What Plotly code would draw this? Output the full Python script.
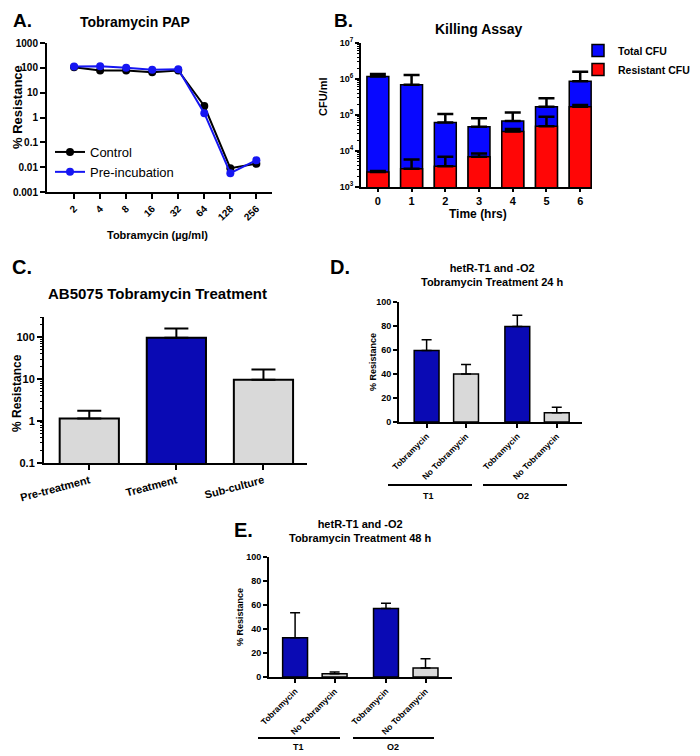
import plotly.graph_objects as go

# === Data ===
# A. Tobramycin PAP
pap_conc = ["2", "4", "8", "16", "32", "64", "128", "256"]
pap_control = [106, 78, 78, 67, 78, 2.9, 0.0091, 0.0137]
pap_preinc = [113, 117, 100, 83, 88, 1.5, 0.0057, 0.019]

# B. Killing assay
kill_time = ["0", "1", "2", "3", "4", "5", "6"]
total_cfu = [1.17e6, 6.9e5, 6.2e4, 4.7e4, 6.8e4, 1.7e5, 8.7e5]
total_err = [2.1e5, 6.1e5, 4.5e4, 3.4e4, 4.9e4, 1.2e5, 7.3e5]
resistant_cfu = [2.6e3, 3.2e3, 3.8e3, 6.9e3, 3.5e4, 4.9e4, 1.7e5]
resistant_err = [0.2e3, 2.6e3, 3.1e3, 1.6e3, 6e3, 4.0e4, 2e4]

# C. AB5075 treatment
treat_groups = ["Pre-treatment", "Treatment", "Sub-culture"]
treat_values = [1.15, 97, 9.7]
treat_err = [0.6, 64, 7.3]

# D / E. hetR-T1 and -O2
het_labels = ["Tobramycin", "No Tobramycin", "Tobramycin", "No Tobramycin"]
het_pos = [0, 1, 2.3, 3.3]
d_values = [59.5, 40, 79.5, 7.8]
d_err = [9, 8, 9.5, 4.5]
e_values = [32.8, 2.8, 57, 7.5]
e_err = [20.8, 1.4, 4.4, 7.8]

OFF = 8  # page body margin: the figure starts 8px in from the window corner
W, H = 700 - 2 * OFF, 756 - OFF
FONT = "Liberation Sans, Arial, sans-serif"
BLUE = "#1616f2"
BAR_BLUE = "#0808ff"
DARK_BLUE = "#0a0ab4"
RED = "#ff0606"
GREY = "#d9d9d9"


# convert window pixel positions to paper fractions
def px(x):
    return (x - OFF) / W


def py(y):
    return 1 - (y - OFF) / H


def bold(size):
    return dict(family=FONT, size=size, color="black", weight="bold")


axis_common = dict(showline=True, linecolor="black", linewidth=2, ticks="outside",
                   tickwidth=1.5, tickcolor="black", showgrid=False, zeroline=False,
                   automargin=False)

fig = go.Figure()

# --- A ---
fig.add_trace(go.Scatter(x=pap_conc, y=pap_control, name="Control", mode="lines+markers",
                         line=dict(color="black", width=2), marker=dict(size=8, color="black"),
                         xaxis="x", yaxis="y", legend="legend"))
fig.add_trace(go.Scatter(x=pap_conc, y=pap_preinc, name="Pre-incubation", mode="lines+markers",
                         line=dict(color=BLUE, width=2), marker=dict(size=8, color=BLUE),
                         xaxis="x", yaxis="y", legend="legend"))

# --- B ---
fig.add_trace(go.Bar(x=kill_time, y=total_cfu, name="Total CFU", width=0.65,
                     marker=dict(color=BAR_BLUE, line=dict(color="black", width=1.5)),
                     error_y=dict(type="data", symmetric=False, array=total_err,
                                  arrayminus=[0] * 7, color="black", thickness=2.5, width=8),
                     xaxis="x2", yaxis="y2", legend="legend2"))
fig.add_trace(go.Bar(x=kill_time, y=resistant_cfu, name="Resistant CFU", width=0.65,
                     marker=dict(color=RED, line=dict(color="black", width=1.5)),
                     error_y=dict(type="data", symmetric=False, array=resistant_err,
                                  arrayminus=[0] * 7, color="black", thickness=2.5, width=8),
                     xaxis="x2", yaxis="y2", legend="legend2"))

# --- C ---
fig.add_trace(go.Bar(x=treat_groups, y=treat_values, width=0.68, showlegend=False,
                     marker=dict(color=[GREY, DARK_BLUE, GREY], line=dict(color="black", width=2)),
                     error_y=dict(type="data", symmetric=False, array=treat_err,
                                  arrayminus=[0] * 3, color="black", thickness=2, width=12),
                     xaxis="x3", yaxis="y3"))

# --- D ---
fig.add_trace(go.Bar(x=het_pos, y=d_values, width=0.63, showlegend=False,
                     marker=dict(color=[DARK_BLUE, GREY, DARK_BLUE, GREY], line=dict(color="black", width=1.5)),
                     error_y=dict(type="data", symmetric=False, array=d_err,
                                  arrayminus=[0] * 4, color="black", thickness=1.5, width=5),
                     xaxis="x4", yaxis="y4"))

# --- E ---
fig.add_trace(go.Bar(x=het_pos, y=e_values, width=0.63, showlegend=False,
                     marker=dict(color=[DARK_BLUE, GREY, DARK_BLUE, GREY], line=dict(color="black", width=1.5)),
                     error_y=dict(type="data", symmetric=False, array=e_err,
                                  arrayminus=[0] * 4, color="black", thickness=1.5, width=5),
                     xaxis="x5", yaxis="y5"))

minor_b = [m * 10 ** e for e in range(3, 7) for m in range(2, 10)]
minor_c = [m * 10 ** e for e in range(-1, 3) for m in range(2, 10)]

fig.update_layout(
    width=W, height=H, margin=dict(l=0, r=0, t=0, b=0, autoexpand=False),
    paper_bgcolor="white", plot_bgcolor="white", barmode="overlay",
    font=dict(family=FONT, color="black"),
    xaxis=dict(axis_common, domain=[px(47), px(272)], anchor="y", type="category",
               range=[-1.04, 7.6], tickangle=-45, tickfont=bold(10), ticklen=5),
    yaxis=dict(axis_common, domain=[py(192), py(43)], anchor="x", type="log", range=[-3, 3],
               tickvals=[0.001, 0.01, 0.1, 1, 10, 100, 1000],
               ticktext=["0.001", "0.01", "0.1", "1", "10", "100", "1000"],
               tickfont=bold(10), ticklen=5),
    xaxis2=dict(axis_common, domain=[px(361), px(592)], anchor="y2", type="category",
                range=[-0.5, 6.35], tickfont=bold(11), ticklen=3),
    yaxis2=dict(axis_common, domain=[py(187), py(43)], anchor="x2", type="log", range=[3, 7],
                tickvals=[1e3, 1e4, 1e5, 1e6, 1e7],
                ticktext=["10<sup>3</sup>", "10<sup>4</sup>", "10<sup>5</sup>", "10<sup>6</sup>", "10<sup>7</sup>"],
                tickfont=bold(9), ticklen=4,
                minor=dict(tickmode="array", tickvals=minor_b, ticks="outside", ticklen=2,
                           tickwidth=1, tickcolor="black")),
    xaxis3=dict(axis_common, domain=[px(44), px(307)], anchor="y3", type="category",
                range=[-0.52, 2.5], tickangle=-15, tickfont=bold(11), ticklen=5),
    yaxis3=dict(axis_common, domain=[py(463), py(317)], anchor="x3", type="log", range=[-1, 2.48],
                tickvals=[0.1, 1, 10, 100], ticktext=["0.1", "1", "10", "100"],
                tickfont=bold(11), ticklen=5,
                minor=dict(tickmode="array", tickvals=minor_c, ticks="outside", ticklen=2,
                           tickwidth=1, tickcolor="black")),
    xaxis4=dict(axis_common, domain=[px(399), px(582)], anchor="y4", range=[-0.7, 3.94],
                tickvals=het_pos, ticktext=het_labels, tickangle=-45, tickfont=bold(8.5), ticklen=4),
    yaxis4=dict(axis_common, domain=[py(422), py(302)], anchor="x4", range=[0, 100],
                tickvals=[0, 20, 40, 60, 80, 100], tickfont=bold(9), ticklen=4),
    xaxis5=dict(axis_common, domain=[px(269), px(452)], anchor="y5", range=[-0.66, 3.97],
                tickvals=het_pos, ticktext=het_labels, tickangle=-45, tickfont=bold(8.5), ticklen=4),
    yaxis5=dict(axis_common, domain=[py(677), py(557)], anchor="x5", range=[0, 100],
                tickvals=[0, 20, 40, 60, 80, 100], tickfont=bold(9), ticklen=4),
    legend=dict(x=px(50), y=py(137), xanchor="left", yanchor="top", bgcolor="rgba(0,0,0,0)",
                font=dict(family=FONT, size=13, color="black"), tracegroupgap=0),
    legend2=dict(x=px(578), y=py(36), xanchor="left", yanchor="top", bgcolor="rgba(0,0,0,0)",
                 font=bold(10.5), tracegroupgap=0),
)

# Text: panel letters, titles, axis titles
texts = [
    ("A.", 22, 21, 19, 0), ("B.", 343, 21, 19, 0), ("C.", 22, 267, 20, 0),
    ("D.", 340, 267, 20, 0), ("E.", 243, 530, 20, 0),
    ("Tobramycin PAP", 135, 22, 14, 0), ("Killing Assay", 479, 29, 14, 0),
    ("AB5075 Tobramycin Treatment", 157, 293, 15, 0),
    ("hetR-T1 and -O2<br>Tobramycin Treatment 24 h", 492, 275, 11, 0),
    ("hetR-T1 and -O2<br>Tobramycin Treatment 48 h", 360, 531, 11, 0),
    ("Tobramycin (µg/ml)", 157, 235, 11, 0), ("Time (hrs)", 478, 214, 12, 0),
    ("% Resistance", 18, 107, 13, -90), ("CFU/ml", 323, 97, 11, -90),
    ("% Resistance", 17, 393, 12, -90), ("% Resistance", 373, 362, 9, -90),
    ("% Resistance", 240, 617, 9, -90),
    ("T1", 428, 496, 9, 0), ("O2", 523, 496, 9, 0),
    ("T1", 298, 747, 9, 0), ("O2", 393, 747, 9, 0),
]
for t, x, y, s, a in texts:
    fig.add_annotation(text=t, x=px(x), y=py(y), xref="paper", yref="paper", showarrow=False,
                       xanchor="center", yanchor="middle", textangle=a, font=bold(s))

# group underlines for D and E
for x0, x1, y in [(388, 472, 485), (483, 567, 485), (258, 340, 738), (353, 434, 738)]:
    fig.add_shape(type="line", xref="paper", yref="paper", x0=px(x0), x1=px(x1), y0=py(y), y1=py(y),
                  line=dict(color="black", width=2))

fig.write_html("out.html")
